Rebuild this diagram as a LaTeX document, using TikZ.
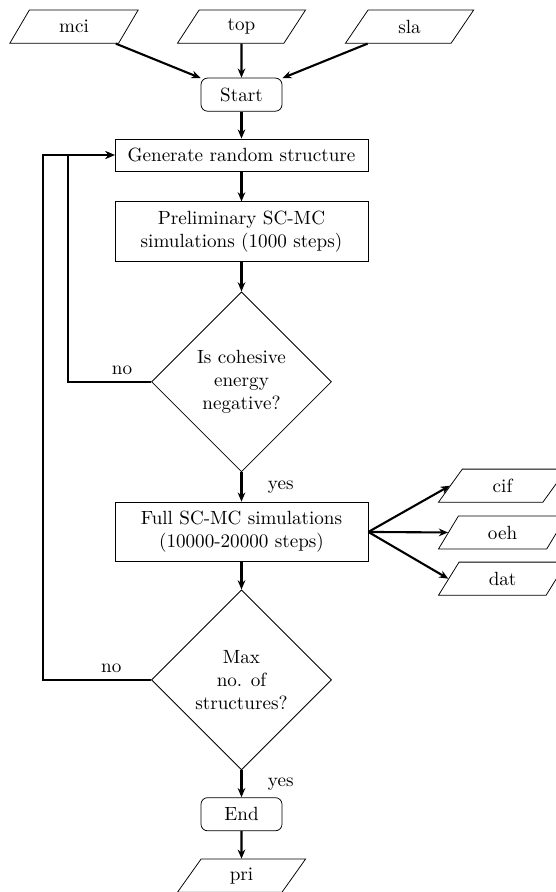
\documentclass[tikz,border=0pt]{standalone}
\usepackage{amssymb,amsmath}
\usetikzlibrary{shapes.geometric,arrows.meta}

\begin{document}
\begin{tikzpicture}[
    process/.style={rectangle,draw,minimum width=4.65cm,minimum height=0.59cm,align=center},
    terminal/.style={rectangle,draw,rounded corners=3.5pt,minimum width=1.49cm,minimum height=0.61cm},
    decision/.style={diamond,draw,aspect=1,minimum size=3.31cm,inner sep=1pt,align=center},
    io/.style={trapezium,draw,trapezium left angle=70,trapezium right angle=110,
        trapezium stretches=true,minimum width=2.36cm,minimum height=0.61cm},
    flow/.style={-{Stealth[length=4.8pt,width=4pt]},line width=1.1pt}]

\useasboundingbox (0,0) rectangle (10.22,-16.40);

% Input files
\node[io] (mci) at (1.36,-0.49) {mci};
\node[io] (top) at (4.44,-0.49) {top};
\node[io] (sla) at (7.53,-0.49) {sla};

% Main column
\node[terminal] (start) at (4.44,-1.74) {Start};
\node[process] (gen) at (4.44,-2.85) {Generate random structure};
\node[process,minimum height=1.1cm] (pre) at (4.44,-4.26) {Preliminary SC-MC\\simulations (1000 steps)};
\node[decision] (coh) at (4.44,-7.02) {Is cohesive\\energy\\negative?};
\node[process,minimum height=1.1cm] (full) at (4.44,-9.78) {Full SC-MC simulations\\(10000-20000 steps)};
\node[decision] (max) at (4.44,-12.50) {Max\\no. of\\structures?};
\node[terminal] (end) at (4.44,-14.97) {End};
\node[io] (pri) at (4.44,-16.10) {pri};

% Output files
\node[io] (cif) at (9.24,-8.93) {cif};
\node[io] (oeh) at (9.24,-9.79) {oeh};
\node[io] (dat) at (9.24,-10.64) {dat};

% Inputs to start
\draw[flow] (mci) -- (start);
\draw[flow] (top) -- (start);
\draw[flow] (sla) -- (start);

% Straight down the column
\draw[flow] (start) -- (gen);
\draw[flow] (gen) -- (pre);
\draw[flow] (pre) -- (coh);
\draw[flow] (coh) -- node[right=3.5mm] {yes} (full);
\draw[flow] (full) -- (max);
\draw[flow] (max) -- node[right=3.5mm] {yes} (end);
\draw[flow] (end) -- (pri);

% Full run writes three files
\draw[flow] (full.east) -- (cif.west);
\draw[flow] (full.east) -- (oeh.west);
\draw[flow] (full.east) -- (dat.west);

% Loops back to a new structure
\draw[flow] (coh.west) -- node[above,pos=0.35] {no} ++(-1.53,0) |- (gen.west);
\draw[flow] (max.west) -- node[above,pos=0.37] {no} ++(-1.98,0) |- (gen.west);

\end{tikzpicture}
\end{document}
